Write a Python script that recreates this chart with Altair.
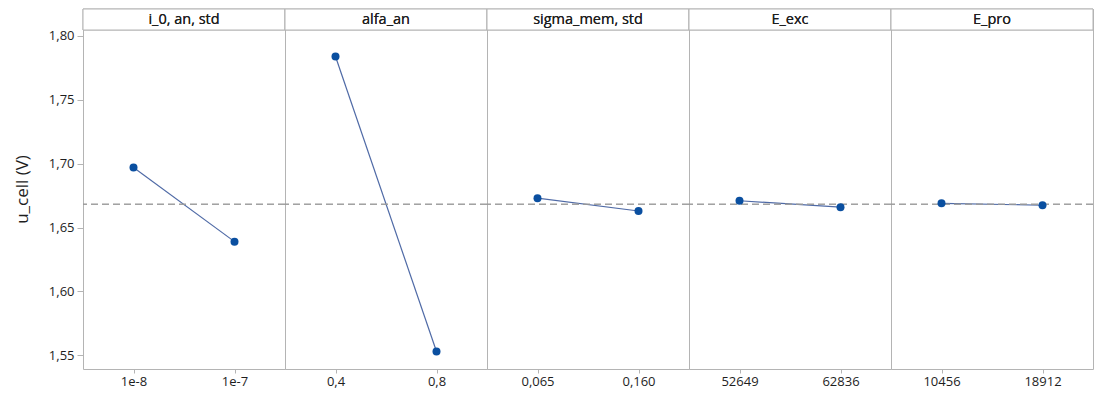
import altair as alt
import pandas as pd

factors = ["i_0, an, std", "alfa_an", "sigma_mem, std", "E_exc", "E_pro"]
levels = [["1e-8", "1e-7"], ["0,4", "0,8"], ["0,065", "0,160"], ["52649", "62836"], ["10456", "18912"]]
means = [[1.697, 1.639], [1.784, 1.553], [1.673, 1.663], [1.671, 1.666], [1.669, 1.6675]]
grand_mean = 1.6683
y_ticks = [1.55, 1.60, 1.65, 1.70, 1.75, 1.80]

rows = []
for f, lv, mv in zip(factors, levels, means):
    for i, (l, m) in enumerate(zip(lv, mv)):
        rows.append({"factor": f, "level": l, "order": i, "mean": m})
df = pd.DataFrame(rows)

FONT = "Open Sans"
GRAY = "#b4b4b4"
TXT = "#1e1e1e"
W, H = 202, 360
HEADER = 21

yscale = alt.Scale(domain=[1.53927, 1.82114], nice=False, zero=False)

xenc = alt.X(
    "level:N",
    sort=alt.EncodingSortField(field="order", op="min"),
    axis=alt.Axis(
        title=None, labelAngle=0, domain=False, grid=False, tickColor=GRAY,
        tickSize=4, labelFontSize=13, labelColor=TXT, labelPadding=2,
        labelFont=FONT,
    ),
)
yenc = alt.Y(
    "mean:Q",
    scale=yscale,
    axis=alt.Axis(
        values=y_ticks, labelExpr="replace(format(datum.value, '.2f'), '.', ',')",
        title="u_cell (V)", titleFontSize=17, titleFontWeight="normal",
        titleFont=FONT, titleColor=TXT, titlePadding=17,
        domain=False, grid=False, tickColor=GRAY, tickSize=6,
        labelFontSize=13, labelColor=TXT, labelFont=FONT, labelPadding=3,
    ),
)

base = alt.Chart(df)

header_rect = base.mark_rect(fill="white", stroke=GRAY, strokeWidth=1).encode(
    x=alt.value(0), x2=alt.value(W), y=alt.value(0), y2=alt.value(HEADER)
)
header_text = base.mark_text(fontSize=14.5, font=FONT, color=TXT, baseline="middle").encode(
    text="factor:N", x=alt.value(W / 2), y=alt.value(HEADER / 2 + 0.5)
)
mean_rule = base.mark_rule(color="#9a9a9a", strokeDash=[7, 4], strokeWidth=1).encode(
    y=alt.datum(grand_mean, scale=yscale)
)
line = base.mark_line(color="#4f6aa6", strokeWidth=1.2).encode(x=xenc, y=yenc)
pts = base.mark_circle(size=64, color="#0a4fa0", opacity=1).encode(x=xenc, y=yenc)

layer = alt.layer(line, mean_rule, pts, header_rect, header_text).properties(width=W, height=H)

chart = (
    layer.facet(
        column=alt.Column("factor:N", sort=factors, header=None),
        spacing=0,
        bounds="flush",
    )
    .resolve_scale(x="independent")
    .configure_view(stroke=GRAY, strokeWidth=1)
    .properties(padding={"left": 5, "top": 0, "right": 0, "bottom": 0})
)

chart.save("out.html", embed_options={"renderer": "svg", "actions": False})
